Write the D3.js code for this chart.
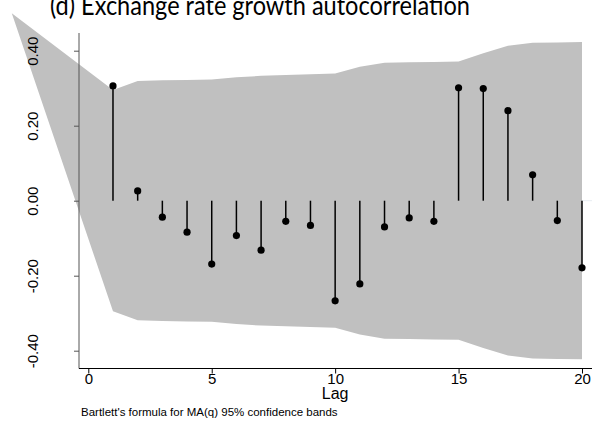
<!DOCTYPE html>
<html>
<head>
<meta charset="utf-8">
<script src="https://cdn.jsdelivr.net/npm/d3@7"></script>
<style>
  html, body { margin: 0; padding: 0; background: #fff; }
  svg { display: block; }
</style>
</head>
<body>
<svg id="chart" width="596" height="428"></svg>
<script>
// Autocorrelation of exchange rate growth, lags 1..20
const lags = [1, 2, 3, 4, 5, 6, 7, 8, 9, 10, 11, 12, 13, 14, 15, 16, 17, 18, 19, 20];
const acValues = [0.306, 0.026, -0.044, -0.084, -0.169, -0.093, -0.132, -0.055, -0.066, -0.267,
                  -0.222, -0.070, -0.046, -0.055, 0.301, 0.299, 0.240, 0.069, -0.053, -0.179];
// Half-width of the 95% confidence band (Bartlett) at each lag
const bandValues = [0.295, 0.319, 0.321, 0.322, 0.323, 0.329, 0.333, 0.335, 0.337, 0.339,
                    0.357, 0.368, 0.369, 0.370, 0.371, 0.393, 0.413, 0.421, 0.422, 0.423];
// Leading vertex of the band polygon
const bandApex = { lag: -3.1, value: 0.50 };
const xTicks = [0, 5, 10, 15, 20];
const yTicks = [-0.4, -0.2, 0, 0.2, 0.4];
const yTickLabels = ["-0.40", "-0.20", "0.00", "0.20", "0.40"];

const svg = d3.select("#chart");
const x = d3.scaleLinear().domain([0, 20]).range([88.3, 582]);
const y = d3.scaleLinear().domain([-0.4, 0.4]).range([350.7, 50.7]);

const axisX = 79, axisY = 368.5, plotRight = 592, plotTop = 33;
const sans = "'Liberation Sans', Arial, sans-serif";

// faint zero reference line
svg.append("line")
  .attr("x1", axisX).attr("x2", plotRight)
  .attr("y1", y(0)).attr("y2", y(0))
  .attr("stroke", "#e8edf2").attr("stroke-width", 1);

// confidence band
const band = lags.map((l, i) => ({ lag: l, hi: bandValues[i], lo: -bandValues[i] }));
const pts = [[x(bandApex.lag), y(bandApex.value)]]
  .concat(band.map(d => [x(d.lag), y(d.hi)]))
  .concat(band.slice().reverse().map(d => [x(d.lag), y(d.lo)]));
svg.append("path")
  .attr("d", d3.line()(pts) + "Z")
  .attr("fill", "#c0c0c0");

// stems
const data = lags.map((l, i) => ({ lag: l, v: acValues[i] }));
svg.append("g").selectAll("line").data(data).join("line")
  .attr("x1", d => x(d.lag)).attr("x2", d => x(d.lag))
  .attr("y1", y(0)).attr("y2", d => y(d.v))
  .attr("stroke", "#000").attr("stroke-width", 1.5);
svg.append("g").selectAll("circle").data(data).join("circle")
  .attr("cx", d => x(d.lag)).attr("cy", d => y(d.v))
  .attr("r", 3.6).attr("fill", "#000");

// y axis
const gy = svg.append("g").attr("transform", `translate(${axisX},0)`)
  .call(d3.axisLeft(y).tickValues(yTicks).tickSize(5).tickSizeOuter(0)
        .tickFormat((d, i) => yTickLabels[i]));
gy.select(".domain").remove();
gy.selectAll(".tick line").attr("stroke", "#555");
gy.selectAll(".tick text")
  .attr("transform", "rotate(-90)")
  .attr("x", 0).attr("y", -46).attr("dy", "0.35em")
  .style("text-anchor", "middle")
  .style("font-family", sans)
  .style("font-size", "15px").attr("fill", "#000");
svg.append("line")
  .attr("x1", axisX).attr("x2", axisX).attr("y1", plotTop).attr("y2", axisY)
  .attr("stroke", "#555").attr("stroke-width", 1);

// x axis
const gx = svg.append("g").attr("transform", `translate(0,${axisY})`)
  .call(d3.axisBottom(x).tickValues(xTicks).tickSize(5).tickSizeOuter(0));
gx.select(".domain").remove();
gx.selectAll(".tick line").attr("stroke", "#000");
gx.selectAll(".tick text")
  .attr("y", 15).attr("dy", 0)
  .style("font-family", sans)
  .style("font-size", "15px").attr("fill", "#000");
svg.append("line")
  .attr("x1", axisX).attr("x2", plotRight).attr("y1", axisY).attr("y2", axisY)
  .attr("stroke", "#000").attr("stroke-width", 1);

svg.append("text")
  .attr("x", x(10)).attr("y", 399)
  .attr("text-anchor", "middle")
  .style("font-family", sans)
  .style("font-size", "16px")
  .text("Lag");

svg.append("text")
  .attr("x", 81).attr("y", 416)
  .style("font-family", sans)
  .style("font-size", "11.5px")
  .text("Bartlett's formula for MA(q) 95% confidence bands");

// title
svg.append("text")
  .attr("x", 260).attr("y", 15)
  .attr("text-anchor", "middle")
  .attr("textLength", 420)
  .attr("lengthAdjust", "spacingAndGlyphs")
  .style("font-family", "Lato, 'Open Sans', sans-serif")
  .style("font-size", "27px")
  .text("(d) Exchange rate growth autocorrelation");
</script>
</body>
</html>
